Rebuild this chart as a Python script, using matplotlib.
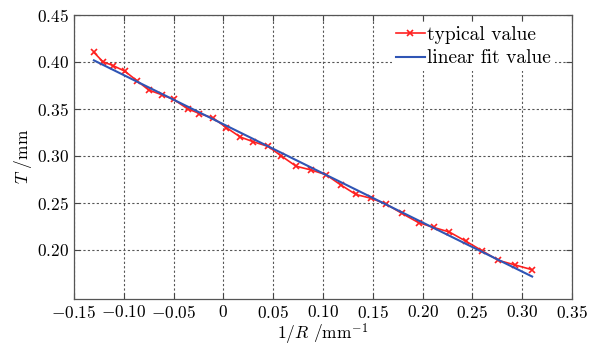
import numpy as np
import matplotlib
matplotlib.use("Agg")
import matplotlib.pyplot as plt
from matplotlib.ticker import FuncFormatter

#--- data ---#
inv_R = [-0.130, -0.121, -0.111, -0.099, -0.087, -0.075, -0.062, -0.050,
         -0.036, -0.024, -0.010, 0.003, 0.017, 0.030, 0.045, 0.058,
         0.073, 0.088, 0.103, 0.118, 0.133, 0.148, 0.163, 0.179,
         0.196, 0.211, 0.227, 0.244, 0.260, 0.276, 0.293, 0.310]
T_typical = [0.410, 0.400, 0.396, 0.390, 0.380, 0.370, 0.365, 0.360,
             0.350, 0.345, 0.340, 0.330, 0.320, 0.315, 0.310, 0.300,
             0.289, 0.285, 0.280, 0.269, 0.259, 0.255, 0.249, 0.239,
             0.229, 0.224, 0.219, 0.209, 0.199, 0.189, 0.184, 0.179]
x_ticks = [-0.15, -0.10, -0.05, 0, 0.05, 0.10, 0.15, 0.20, 0.25, 0.30, 0.35]
y_ticks = [0.20, 0.25, 0.30, 0.35, 0.40, 0.45]

#--- linear fit ---#
slope, icpt = np.polyfit(inv_R, T_typical, 1)
x_fit = np.array([inv_R[0], inv_R[-1]])
T_fit = slope * x_fit + icpt

plt.rcParams['font.family'] = ['cmr10', 'DejaVu Serif']
plt.rcParams['mathtext.fontset'] = 'cm'
plt.rcParams['axes.unicode_minus'] = False

fig = plt.figure(figsize=(6.04, 3.5), dpi=100)
ax = fig.add_axes([0.1225, 0.146, 0.8245, 0.812])

ax.plot(inv_R, T_typical, color='#ff2020', lw=1.2, marker='x', ms=5,
        mew=1.2, label='typical value')
ax.plot(x_fit, T_fit, color='#2f55b5', lw=1.5, label='linear fit value')

def fmt(v, pos):
    if abs(v) < 1e-9:
        return r'$0$'
    return r'$%.2f$' % v

ax.set_xlim(-0.15, 0.35)
ax.set_ylim(0.148, 0.45)
ax.set_xticks(x_ticks)
ax.set_yticks(y_ticks)
ax.xaxis.set_major_formatter(FuncFormatter(fmt))
ax.yaxis.set_major_formatter(FuncFormatter(fmt))
ax.tick_params(direction='in', top=True, right=True, labelsize=12.5,
               length=4, width=0.8, color='#444444')
for s in ax.spines.values():
    s.set_color('#555555')
    s.set_linewidth(0.9)
ax.grid(True, linestyle=(0, (2, 2)), color='#555555', lw=0.8)

ax.set_xlabel(r'$1/R$ /mm$^{-1}$', fontsize=12.5, labelpad=1)
ax.set_ylabel(r'$T$ /mm', fontsize=12.5, labelpad=2)

leg = ax.legend(loc='upper right', bbox_to_anchor=(0.965, 0.975), fontsize=14,
                frameon=True, fancybox=False, edgecolor='none',
                facecolor='white', framealpha=1, handlelength=1.5,
                handletextpad=0.1, borderpad=0.2, labelspacing=0.3,
                borderaxespad=0.0)

fig.savefig('out.png', dpi=100, facecolor='white')
